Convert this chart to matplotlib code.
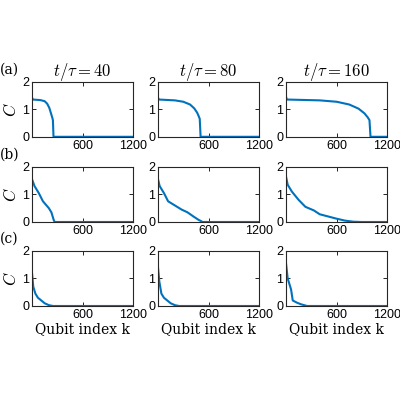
import matplotlib
matplotlib.use("Agg")
import matplotlib.pyplot as plt
import numpy as np

plt.rcParams['mathtext.fontset'] = 'cm'
plt.rcParams['font.family'] = ['Liberation Sans', 'DejaVu Sans']

titles = [r"$t/\tau=40$", r"$t/\tau=80$", r"$t/\tau=160$"]
row_labels = ["(a)", "(b)", "(c)"]

# (k, C), row by row
curves = [
    [
        ([0, 10, 100, 150, 180, 205, 225, 240, 248, 255, 1200], [1.42, 1.35, 1.33, 1.29, 1.2, 1.05, 0.85, 0.7, 0.6, 0, 0]),
        ([0, 10, 200, 300, 380, 430, 465, 485, 495, 505, 1200], [1.42, 1.35, 1.32, 1.27, 1.17, 1.03, 0.87, 0.73, 0.65, 0, 0]),
        ([0, 10, 400, 600, 750, 860, 930, 970, 990, 1002, 1200], [1.45, 1.35, 1.32, 1.27, 1.17, 1.02, 0.85, 0.7, 0.6, 0, 0]),
    ],
    [
        ([0, 30, 80, 130, 200, 230, 260, 270, 1200], [1.55, 1.3, 1.05, 0.75, 0.5, 0.35, 0.05, 0, 0]),
        ([0, 20, 70, 120, 200, 280, 350, 420, 480, 530, 1200], [1.55, 1.3, 1.05, 0.75, 0.6, 0.45, 0.35, 0.2, 0.08, 0, 0]),
        ([0, 20, 70, 150, 230, 330, 400, 500, 600, 700, 800, 900, 1200], [1.65, 1.35, 1.1, 0.8, 0.55, 0.42, 0.28, 0.2, 0.12, 0.05, 0.01, 0, 0]),
    ],
    [
        ([0, 15, 40, 70, 110, 150, 200, 250, 1200], [1.2, 0.7, 0.45, 0.3, 0.2, 0.1, 0.03, 0, 0]),
        ([0, 15, 40, 70, 110, 150, 200, 250, 1200], [1.4, 0.9, 0.45, 0.3, 0.2, 0.1, 0.03, 0, 0]),
        ([0, 20, 60, 80, 130, 180, 250, 1200], [1.55, 1.0, 0.6, 0.2, 0.12, 0.06, 0, 0]),
    ],
]

fig = plt.figure(figsize=(4, 4), dpi=100)
lefts = [0.08, 0.395, 0.715]
bottoms = [0.658, 0.445, 0.235]
w, h = 0.253, 0.138
for i in range(3):
    for j in range(3):
        ax = fig.add_axes([lefts[j], bottoms[i], w, h])
        k, c = curves[i][j]
        ax.plot(k, c, color='#0072BD', lw=1.5)
        ax.set_xlim(0, 1200)
        ax.set_ylim(0, 2)
        ax.set_xticks([600, 1200])
        ax.set_yticks([0, 1, 2])
        ax.tick_params(direction='in', length=3, labelsize=9, pad=2, top=True, right=True, width=0.6)
        for s in ax.spines.values():
            s.set_linewidth(0.8)
            s.set_color('#262626')
        if j == 0:
            ax.set_ylabel(r"$C$", fontsize=12, labelpad=2)
            fig.text(0.0, bottoms[i] + h + 0.02, row_labels[i], family='DejaVu Serif', fontsize=10)
        if i == 0:
            ax.set_title(titles[j], fontsize=12, pad=4)
        if i == 2:
            ax.set_xlabel("Qubit index k", family='DejaVu Serif', fontsize=10, labelpad=1)

fig.savefig("out.png", dpi=100)
